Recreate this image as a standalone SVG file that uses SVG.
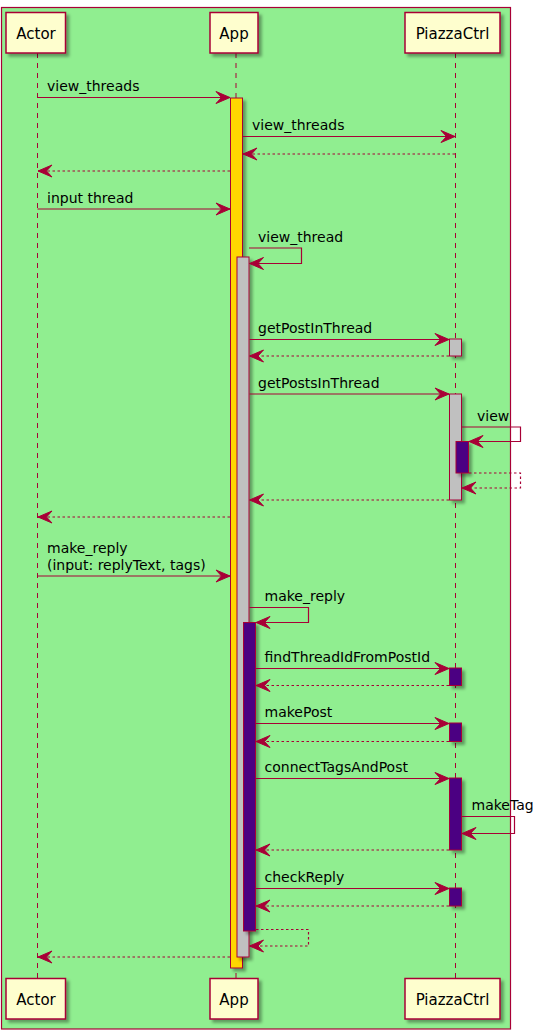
<svg xmlns="http://www.w3.org/2000/svg" width="544" height="1035" viewBox="0 0 544 1035">
<defs>
<style>
.frame{fill:#90EE90;stroke:#A80036;stroke-width:1.2}
.life{stroke:#A80036;stroke-width:1;stroke-dasharray:5,5;fill:none}
.part{fill:#FEFECE;stroke:#A80036;stroke-width:1.5}
.pt{font-family:"DejaVu Sans",sans-serif;font-size:15px;fill:#000;text-anchor:middle}
.act{stroke:#A80036;stroke-width:1}
.y{fill:#FFD700}.g{fill:#C0C0C0}.p{fill:#4B0082}
.msg{stroke:#A80036;stroke-width:1.2;fill:none;marker-end:url(#ah)}
.ret{stroke:#A80036;stroke-width:1.2;fill:none;stroke-dasharray:2.5,2.5;marker-end:url(#ah)}
.lbl{font-family:"DejaVu Sans",sans-serif;font-size:14px;fill:#000}
</style>
<filter id="sh" x="-50%" y="-50%" width="200%" height="200%">
<feDropShadow dx="3" dy="3" stdDeviation="1.5" flood-color="#000" flood-opacity="0.35"/>
</filter>
<marker id="ah" markerWidth="16" markerHeight="13" refX="14" refY="6" orient="auto" markerUnits="userSpaceOnUse" overflow="visible">
<path d="M0,0 L14,6 L0,12 L5.5,6 Z" fill="#A80036" stroke="#A80036" stroke-width="1" stroke-dasharray="none"/>
</marker>
</defs>
<rect class="frame" x="1.5" y="7.5" width="509" height="1021.5"/>
<g id="lifelines">
<line class="life" x1="37.5" y1="53" x2="37.5" y2="978"/>
<line class="life" x1="236" y1="53" x2="236" y2="978"/>
<line class="life" x1="455.5" y1="53" x2="455.5" y2="978"/>
</g>
<g id="activations">
<rect class="act y" filter="url(#sh)" x="230.5" y="98" width="12" height="870"/>
<rect class="act g" filter="url(#sh)" x="237" y="257" width="12" height="700"/>
<rect class="act p" filter="url(#sh)" x="243.5" y="622.5" width="12" height="308.5"/>
<rect class="act g" filter="url(#sh)" x="449.5" y="339" width="12" height="17"/>
<rect class="act g" filter="url(#sh)" x="449.5" y="394" width="12" height="106"/>
<rect class="act p" filter="url(#sh)" x="456" y="441.5" width="12.5" height="31.5"/>
<rect class="act p" filter="url(#sh)" x="449.5" y="668" width="12" height="17.5"/>
<rect class="act p" filter="url(#sh)" x="449.5" y="723" width="12" height="18.5"/>
<rect class="act p" filter="url(#sh)" x="449.5" y="778" width="12" height="72"/>
<rect class="act p" filter="url(#sh)" x="449.5" y="888" width="12" height="18"/>
</g>
<g id="connectors">
<line class="msg" x1="37.5" y1="97.5" x2="230" y2="97.5"/>
<line class="msg" x1="243" y1="136.5" x2="455" y2="136.5"/>
<line class="ret" x1="455" y1="154" x2="243" y2="154"/>
<line class="ret" x1="230" y1="171" x2="38" y2="171"/>
<line class="msg" x1="37.5" y1="209" x2="230" y2="209"/>
<polyline class="msg" points="249,248 301.5,248 301.5,263.5 249.5,263.5"/>
<line class="msg" x1="249.5" y1="339.5" x2="449" y2="339.5"/>
<line class="ret" x1="449" y1="356" x2="249.5" y2="356"/>
<line class="msg" x1="249.5" y1="394" x2="449" y2="394"/>
<polyline class="msg" points="462,427 520.5,427 520.5,441.5 469,441.5"/>
<polyline class="ret" points="469,473 520.5,473 520.5,488 462,488"/>
<line class="ret" x1="449" y1="500" x2="249.5" y2="500"/>
<line class="ret" x1="230" y1="517" x2="38" y2="517"/>
<line class="msg" x1="37.5" y1="576" x2="230" y2="576"/>
<polyline class="msg" points="249.5,607.5 308.5,607.5 308.5,622.5 256,622.5"/>
<line class="msg" x1="256" y1="668.5" x2="449" y2="668.5"/>
<line class="ret" x1="449" y1="685.5" x2="256" y2="685.5"/>
<line class="msg" x1="256" y1="723.5" x2="449" y2="723.5"/>
<line class="ret" x1="449" y1="741.5" x2="256" y2="741.5"/>
<line class="msg" x1="256" y1="778.5" x2="449" y2="778.5"/>
<polyline class="msg" points="462,816.5 514.5,816.5 514.5,833.5 462,833.5"/>
<line class="ret" x1="449" y1="850" x2="256" y2="850"/>
<line class="msg" x1="256" y1="888.5" x2="449" y2="888.5"/>
<line class="ret" x1="449" y1="906" x2="256" y2="906"/>
<polyline class="ret" points="256,929.5 308.5,929.5 308.5,946 249.5,946"/>
<line class="ret" x1="230" y1="957" x2="38" y2="957"/>
</g>
<g id="labels">
<text class="lbl" x="47" y="91">view_threads</text>
<text class="lbl" x="252" y="130">view_threads</text>
<text class="lbl" x="47" y="203">input thread</text>
<text class="lbl" x="258" y="241.5">view_thread</text>
<text class="lbl" x="258" y="333">getPostInThread</text>
<text class="lbl" x="258" y="388">getPostsInThread</text>
<text class="lbl" x="477" y="420.5">view</text>
<text class="lbl" x="47" y="553">make_reply</text>
<text class="lbl" x="47" y="569.5">(input: replyText, tags)</text>
<text class="lbl" x="264.5" y="601">make_reply</text>
<text class="lbl" x="264.5" y="662">findThreadIdFromPostId</text>
<text class="lbl" x="264.5" y="717">makePost</text>
<text class="lbl" x="264.5" y="772">connectTagsAndPost</text>
<text class="lbl" x="471.5" y="810">makeTag</text>
<text class="lbl" x="264.5" y="882">checkReply</text>
</g>
<g id="actor-top"><rect class="part" filter="url(#sh)" x="6" y="12.5" width="59.5" height="40.5"/><text class="pt" x="36" y="38.5">Actor</text></g>
<g id="app-top"><rect class="part" filter="url(#sh)" x="210" y="12.5" width="48" height="40.5"/><text class="pt" x="234" y="38.5">App</text></g>
<g id="piazza-top"><rect class="part" filter="url(#sh)" x="405" y="12.5" width="95" height="40.5"/><text class="pt" x="452.5" y="38.5">PiazzaCtrl</text></g>
<g id="actor-bottom"><rect class="part" filter="url(#sh)" x="6" y="978.5" width="59.5" height="40.5"/><text class="pt" x="36" y="1004.5">Actor</text></g>
<g id="app-bottom"><rect class="part" filter="url(#sh)" x="210" y="978.5" width="48" height="40.5"/><text class="pt" x="234" y="1004.5">App</text></g>
<g id="piazza-bottom"><rect class="part" filter="url(#sh)" x="405" y="978.5" width="95" height="40.5"/><text class="pt" x="452.5" y="1004.5">PiazzaCtrl</text></g>
</svg>
